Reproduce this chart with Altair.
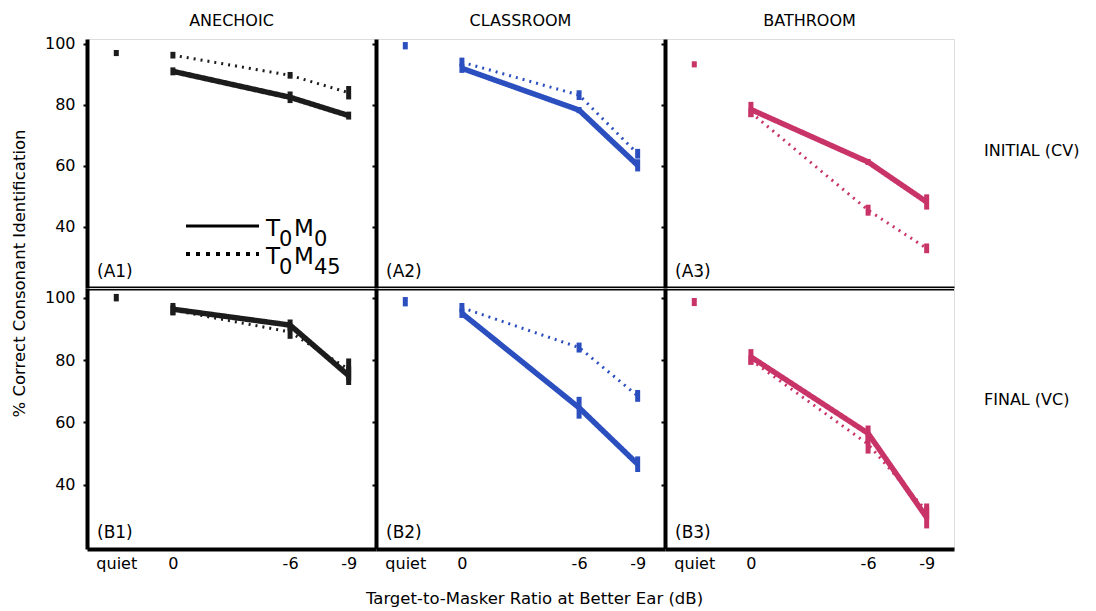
import altair as alt
import pandas as pd

# ---------------- data ----------------
ENVS = ["ANECHOIC", "CLASSROOM", "BATHROOM"]
PHASES = ["INITIAL (CV)", "FINAL (VC)"]
PANEL_TAGS = [["(A1)", "(A2)", "(A3)"], ["(B1)", "(B2)", "(B3)"]]
CONDS = ["T0M0", "T0M45"]
COND_PARTS = [["T", "0", "M", "0"], ["T", "0", "M", "45"]]   # legend text, subscripts at odd places
TMR = [0, -6, -9]
QUIET_POS = 2.9          # axis position of the "quiet" category
X_TICKS = [QUIET_POS, 0, -6, -9]
X_TITLE = "Target-to-Masker Ratio at Better Ear (dB)"
Y_TITLE = "% Correct Consonant Identification"
Y_TICKS = [40, 60, 80, 100]

# [row][col]
QUIET_MEAN = [[97.0, 99.4, 93.3], [100.0, 98.7, 98.6]]
QUIET_ERR = [[1.0, 1.2, 1.0], [1.2, 1.5, 1.3]]

M0_MEAN = [
    [[91.0, 82.5, 76.5], [92.0, 78.3, 60.2], [78.5, 61.3, 48.2]],
    [[96.3, 91.2, 75.0], [95.0, 64.7, 46.6], [81.0, 56.5, 29.5]],
]
M0_ERR = [
    [[1.3, 1.9, 1.3], [1.5, 1.0, 2.0], [2.5, 1.0, 2.5]],
    [[2.0, 1.8, 3.0], [1.5, 3.5, 2.5], [2.5, 2.5, 3.5]],
]
M45_MEAN = [
    [[96.3, 89.7, 84.0], [94.0, 83.2, 64.0], [77.5, 45.5, 33.0]],
    [[96.0, 89.0, 77.0], [96.8, 84.0, 68.5], [80.0, 53.0, 31.5]],
]
M45_ERR = [
    [[1.1, 1.1, 2.2], [1.5, 1.6, 1.6], [1.5, 1.8, 1.6]],
    [[1.5, 2.2, 3.5], [1.5, 1.6, 1.9], [1.5, 3.0, 2.5]],
]

COLORS = ["#1c1c1c", "#2c4fc0", "#c93468"]

# ---------------- layout ----------------
W = 289
HEIGHTS = [249, 261]
YDOMS = [[20, 101.6], [19.4, 103.1]]
FONT = "DejaVu Sans"

dash_scale = alt.Scale(domain=CONDS, range=[[1, 0], [2, 5]])
width_scale = alt.Scale(domain=CONDS, range=[5.5, 3])

# legend layout (pixels inside panel A1)
LEG_LINE_X = (99, 172)
LEG_LINE_Y = [187, 215]
LEG_DASH = [[1, 0], [4, 6]]
LEG_TEXT_X = [179, 192, 207, 227]
LEG_TEXT_BASE = [197, 225]
LEG_SUB_DROP = 10


def text_layer(txt, x, y, size, align="left", baseline="middle"):
    return alt.Chart(pd.DataFrame({"t": [txt]})).mark_text(
        align=align, baseline=baseline, fontSize=size, font=FONT, color="black"
    ).encode(text="t:N", x=alt.value(x), y=alt.value(y))


def legend_layers():
    out = []
    for i, cond in enumerate(CONDS):
        out.append(
            alt.Chart(pd.DataFrame({"cond": [cond]})).mark_rule(
                color="black", strokeWidth=3 if i == 0 else 4, strokeDash=LEG_DASH[i]
            ).encode(x=alt.value(LEG_LINE_X[0]), x2=alt.value(LEG_LINE_X[1]),
                     y=alt.value(LEG_LINE_Y[i]))
        )
        for j, part in enumerate(COND_PARTS[i]):
            sub = j % 2 == 1
            out.append(text_layer(part, LEG_TEXT_X[j],
                                  LEG_TEXT_BASE[i] + (LEG_SUB_DROP if sub else 0),
                                  21 if sub else 23, baseline="alphabetic"))
    return out


def panel(r, c):
    h = HEIGHTS[r]
    color = COLORS[c]
    rows = []
    for k, cond in enumerate(CONDS):
        means = (M0_MEAN if k == 0 else M45_MEAN)[r][c]
        errs = (M0_ERR if k == 0 else M45_ERR)[r][c]
        for t, m, e in zip(TMR, means, errs):
            rows.append(dict(cond=cond, x=t, y=m, lo=m - e, hi=m + e))
    df = pd.DataFrame(rows)
    qm, qe = QUIET_MEAN[r][c], QUIET_ERR[r][c]
    qdf = pd.DataFrame([dict(x=QUIET_POS, y=qm, lo=qm - qe, hi=qm + qe)])

    xkw = dict(
        values=X_TICKS,
        labelExpr="datum.value > 1 ? 'quiet' : '' + datum.value",
        labels=(r == 1), ticks=False, labelFontSize=16, labelPadding=6,
        labelColor="black", labelFont=FONT,
        domainWidth=4, domainColor="black", grid=False,
    )
    if r == 1 and c == 1:
        xkw.update(title=X_TITLE, titleFontSize=16.5, titleFontWeight="normal",
                   titleFont=FONT, titlePadding=19, titleX=158, titleColor="black")
    else:
        xkw.update(title=None)
    xenc = alt.X("x:Q", scale=alt.Scale(domain=[-10.4, 4.4], reverse=True, nice=False, zero=False),
                 axis=alt.Axis(**xkw))

    ykw = dict(
        values=Y_TICKS, labels=(c == 0), tickSize=4, tickWidth=2, tickColor="black",
        labelFontSize=16, labelPadding=8, labelColor="black", labelFont=FONT,
        domainWidth=4, domainColor="black", grid=False,
    )
    if r == 0 and c == 0:
        ykw.update(title=Y_TITLE, titleFontSize=16.5, titleFontWeight="normal",
                   titleFont=FONT, titleY=234, titlePadding=17, titleColor="black")
    else:
        ykw.update(title=None)
    yscale = alt.Scale(domain=YDOMS[r], nice=False, zero=False)
    yenc = alt.Y("y:Q", scale=yscale, axis=alt.Axis(**ykw))

    lines = alt.Chart(df).mark_line(color=color).encode(
        x=xenc, y=yenc,
        strokeDash=alt.StrokeDash("cond:N", scale=dash_scale, legend=None),
        strokeWidth=alt.StrokeWidth("cond:N", scale=width_scale, legend=None),
        detail="cond:N",
    )
    bars = alt.Chart(df).mark_rule(color=color, strokeWidth=5).encode(
        x="x:Q", y="lo:Q", y2="hi:Q")
    qbars = alt.Chart(qdf).mark_rule(color=color, strokeWidth=5).encode(
        x="x:Q", y="lo:Q", y2="hi:Q")

    layers = [lines, bars, qbars,
              text_layer(PANEL_TAGS[r][c], 10, h - 16, 17)]
    if r == 0:
        layers.append(text_layer(ENVS[c], W / 2, -18, 16, align="center"))
    if c == 2:
        layers.append(text_layer(PHASES[r], W + 30, 112, 16))
    if r == 0 and c == 0:
        layers.extend(legend_layers())

    return alt.layer(*layers).properties(width=W, height=h)


panels = [panel(r, c) for r in range(2) for c in range(3)]
chart = (
    alt.concat(*panels, columns=3, spacing=0, bounds="flush")
    .properties(padding={"left": 2, "top": 4, "right": 5, "bottom": 0}, background="white")
    .configure_view(stroke=None)
    .configure(font=FONT)
)

chart.save("out.html", embed_options={"renderer": "svg", "actions": False})
